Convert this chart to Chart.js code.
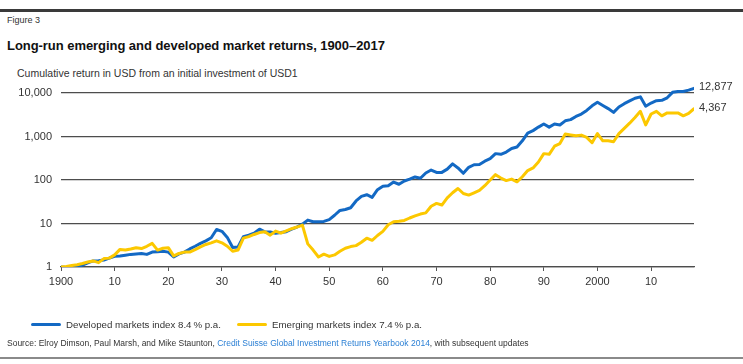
<!DOCTYPE html>
<html>
<head>
<meta charset="utf-8">
<script src="https://cdn.jsdelivr.net/npm/chart.js@4.4.1/dist/chart.umd.min.js"></script>
<style>
  html, body { margin:0; padding:0; background:#fff; }
  body { width:743px; height:364px; position:relative; overflow:hidden; font-family:"Liberation Sans", Arial, sans-serif; color:#222; }
  #wrap { position:absolute; left:0; top:0; width:743px; height:364px; }
  .rule-top { position:absolute; left:0; top:9px; width:743px; height:3px; background:#3a3a3a; }
  .rule-bot { position:absolute; left:0; top:357px; width:743px; height:2px; background:#8a8a8a; }
  .fig { position:absolute; left:7px; top:15px; font-size:9px; color:#333; }
  .title { position:absolute; left:7px; top:38px; font-size:13px; font-weight:bold; color:#111; letter-spacing:-0.05px; }
  .axtitle { position:absolute; left:17px; top:67px; font-size:10.5px; color:#333; }
  .legend { position:absolute; top:319px; font-size:9.7px; color:#333; white-space:nowrap; }
  .legend .sw { display:inline-block; width:30px; height:3px; border-radius:2px; vertical-align:middle; margin-right:5px; position:relative; top:-1px; }
  .source { position:absolute; left:7px; top:338px; font-size:8.5px; color:#333; white-space:nowrap; }
  .source span { color:#2a7fd4; }
</style>
</head>
<body>
<div class="rule-top"></div>
<div class="fig">Figure 3</div>
<div class="title">Long-run emerging and developed market returns, 1900–2017</div>
<div class="axtitle">Cumulative return in USD from an initial investment of USD1</div>
<div id="wrap"><canvas id="chart" width="743" height="364"></canvas></div>
<div class="legend" style="left:31px;"><span class="sw" style="background:#1369c4"></span>Developed markets index 8.4&thinsp;% p.a.</div>
<div class="legend" style="left:237px;"><span class="sw" style="background:#fcc800"></span>Emerging markets index 7.4&thinsp;% p.a.</div>
<div class="source">Source: Elroy Dimson, Paul Marsh, and Mike Staunton, <span>Credit Suisse Global Investment Returns Yearbook 2014</span>, with subsequent updates</div>
<div class="rule-bot"></div>
<script>
// years: value at each year position (start of year), 1900 .. 2018 (= end of 2017)
const years = Array.from({length:119}, (_, i) => 1900 + i);

const developed = [
  1.0, 0.97, 0.98, 1.0, 1.1, 1.25, 1.38, 1.4, 1.45, 1.6,
  1.77, 1.8, 1.87, 1.95, 2.0, 2.05, 1.95, 2.2, 2.25, 2.3,
  2.2, 1.7, 2.0, 2.2, 2.6, 3.0, 3.5, 4.0, 4.7, 7.3,
  6.6, 4.8, 2.8, 2.9, 5.0, 5.4, 6.0, 7.4, 6.4, 6.4,
  6.0, 6.2, 6.5, 7.4, 8.3, 9.7, 12.0, 11.0, 11.0, 11.2,
  12.3, 15.5, 20, 21, 23, 33, 42, 46, 40, 60,
  72, 74, 90, 80, 95, 105, 118, 110, 145, 170,
  150, 150, 178, 235, 190, 143, 196, 225, 228, 272,
  310, 405, 390, 440, 530, 575, 800, 1200, 1370, 1650,
  1950, 1650, 1950, 1850, 2300, 2450, 2900, 3300, 4000, 5100,
  6150, 5200, 4400, 3600, 4800, 5700, 6600, 7600, 8200, 5000,
  5900, 6700, 6800, 7800, 10400, 10900, 10900, 11700, 12877
];

const emerging = [
  1.0, 1.03, 1.08, 1.13, 1.2, 1.3, 1.38, 1.26, 1.56, 1.6,
  1.9, 2.54, 2.45, 2.6, 2.78, 2.65, 3.0, 3.5, 2.45, 2.7,
  2.78, 1.8, 2.05, 2.2, 2.2, 2.5, 2.9, 3.3, 3.6, 4.0,
  3.6, 3.0, 2.3, 2.45, 4.6, 5.0, 5.6, 6.2, 6.5, 5.4,
  6.7, 6.0, 6.8, 7.6, 8.3, 9.2, 3.4, 2.45, 1.7, 1.97,
  1.75, 1.9, 2.3, 2.7, 2.95, 3.1, 3.7, 4.6, 4.1, 5.3,
  6.6, 9.4, 11, 11.3, 11.8, 13.4, 15, 16.5, 17.6, 25,
  29, 26.6, 39, 51, 64, 49, 45, 51, 58, 74,
  100, 133, 111, 97, 105, 91, 119, 165, 190, 260,
  405, 390, 600, 690, 1140, 1090, 1040, 1080, 960, 720,
  1170, 800, 800, 760, 1170, 1540, 2030, 2750, 3800, 1850,
  3300, 3800, 3000, 3500, 3500, 3500, 3000, 3400, 4367
];

const yTicks = [1, 10, 100, 1000, 10000];
const xTicks = [1900, 1910, 1920, 1930, 1940, 1950, 1960, 1970, 1980, 1990, 2000, 2010];
const endLabels = ['12,877', '4,367'];

const BLUE = '#1369c4', YELLOW = '#fcc800';

// final values written at the right end of each line
const endLabelPlugin = {
  id: 'endLabels',
  afterDatasetsDraw(chart) {
    const {ctx, scales:{x, y}} = chart;
    ctx.save();
    ctx.font = '11px "Liberation Sans", Arial, sans-serif';
    ctx.fillStyle = '#333';
    ctx.textBaseline = 'middle';
    ctx.textAlign = 'left';
    chart.data.datasets.forEach((ds, i) => {
      const last = ds.data[ds.data.length - 1];
      ctx.fillText(endLabels[i], x.getPixelForValue(last.x) + 5, y.getPixelForValue(last.y) - 1);
    });
    ctx.restore();
  }
};

const toPts = arr => arr.map((v, i) => ({x: years[i], y: v}));

new Chart(document.getElementById('chart'), {
  type: 'line',
  data: {
    datasets: [
      {label:'Developed markets index 8.4% p.a.', data: toPts(developed), borderColor: BLUE, order: 1},
      {label:'Emerging markets index 7.4% p.a.', data: toPts(emerging), borderColor: YELLOW, order: 0}
    ]
  },
  options: {
    responsive: false,
    animation: false,
    layout: {padding: {top: 80, left: 0, right: 49, bottom: 71}},
    elements: {
      line: {borderWidth: 3, tension: 0, borderJoinStyle: 'round', borderCapStyle: 'round', fill: false},
      point: {radius: 0}
    },
    plugins: {legend: {display: false}, tooltip: {enabled: false}},
    scales: {
      x: {
        type: 'linear', min: 1900, max: 2018,
        afterBuildTicks: s => { s.ticks = xTicks.map(v => ({value: v})); },
        afterFit: s => { s.height = 26; },
        grid: {drawOnChartArea: false, drawTicks: true, tickLength: 4, tickColor: '#555', lineWidth: 1},
        border: {display: true, color: '#4d4d4d', width: 1.3},
        ticks: {
          padding: 4, color: '#333', maxRotation: 0,
          font: {family: '"Liberation Sans", Arial, sans-serif', size: 11},
          callback: v => (v === 1900 || v === 2000) ? String(v) : String(v % 100)
        }
      },
      y: {
        type: 'logarithmic', min: 1, max: 20000,
        afterBuildTicks: s => { s.ticks = yTicks.map(v => ({value: v})); },
        afterFit: s => { s.width = 61; },
        grid: {color: '#4d4d4d', lineWidth: 1.3, drawTicks: false},
        border: {display: false},
        ticks: {
          padding: 9, color: '#333',
          font: {family: '"Liberation Sans", Arial, sans-serif', size: 11},
          callback: v => v.toLocaleString('en-US')
        }
      }
    }
  },
  plugins: [endLabelPlugin]
});
</script>
</body>
</html>
